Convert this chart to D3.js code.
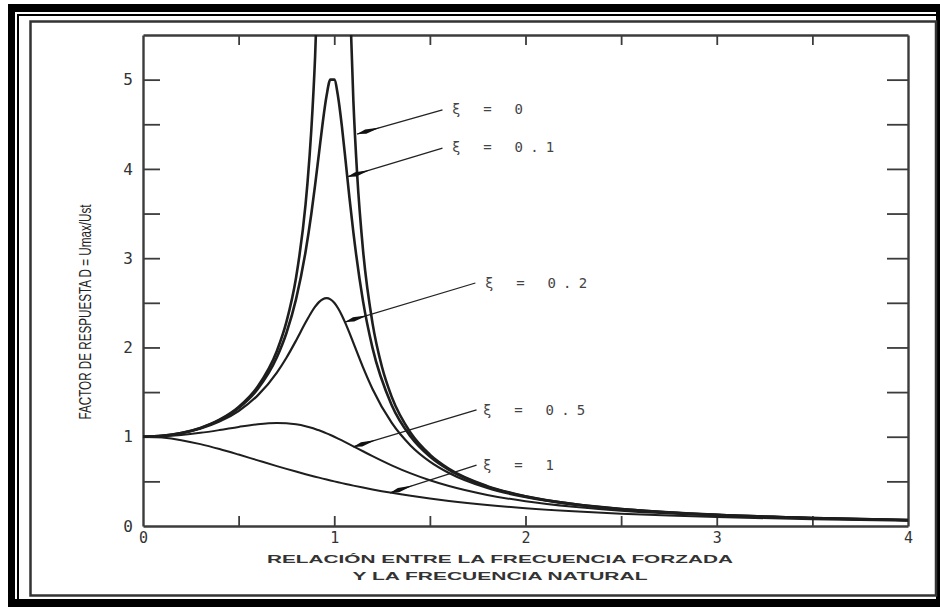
<!DOCTYPE html>
<html>
<head>
<meta charset="utf-8">
<script src="https://cdn.jsdelivr.net/npm/d3@7"></script>
<style>
  html, body { margin: 0; padding: 0; background: #fff; }
  svg { display: block; }
</style>
</head>
<body>
<script>
// ---------- data ----------
const ratio = [0,0.1,0.2,0.3,0.4,0.5,0.6,0.7,0.75,0.8,0.85,0.88,0.9,0.92,0.94,0.96,0.98,1.0,1.02,1.04,1.06,1.08,1.1,1.15,1.2,1.3,1.4,1.5,1.6,1.8,2.0,2.25,2.5,2.75,3.0,3.5,4.0];

const xi0LeftRatio  = [0,0.1,0.2,0.3,0.4,0.5,0.6,0.7,0.75,0.8,0.85,0.86,0.88,0.9,0.92];
const xi0LeftValue  = [1,1.0101,1.0417,1.0989,1.1905,1.3333,1.5625,1.9608,2.2857,2.7778,3.6036,3.8402,4.4326,5.2632,6.5104];
const xi0RightRatio = [1.08,1.1,1.12,1.15,1.2,1.25,1.3,1.4,1.5,1.6,1.8,2.0,2.25,2.5,2.75,3.0,3.5,4.0];
const xi0RightValue = [6.0096,4.7619,3.931,3.1008,2.2727,1.7778,1.4493,1.0417,0.8,0.641,0.4464,0.3333,0.2462,0.1905,0.1524,0.125,0.0889,0.0667];

const xi01 = [1,1.0099,1.0408,1.0965,1.1851,1.3216,1.5357,1.8908,2.1622,2.5384,3.0728,3.4949,3.8208,4.1721,4.5225,4.8218,5.0010,5.0,4.8086,4.4755,4.0750,3.6675,3.2880,2.5245,1.9952,1.3562,1.0,0.7779,0.6279,0.4408,0.3304,0.2447,0.1896,0.1518,0.1247,0.0887,0.0666];
const xi02 = [1,1.0093,1.0381,1.0895,1.1695,1.2883,1.4630,1.7188,1.8851,2.0761,2.2786,2.3918,2.4566,2.5077,2.5407,2.5515,2.5381,2.5,2.4390,2.3589,2.2642,2.1601,2.0511,1.7800,1.5357,1.1574,0.8998,0.7212,0.5931,0.4250,0.3221,0.2403,0.1871,0.1503,0.1236,0.0882,0.0663];
const xi05 = [1,1.0050,1.0198,1.0437,1.0748,1.1094,1.1399,1.1546,1.1517,1.1399,1.1184,1.1008,1.0871,1.0721,1.0558,1.0382,1.0196,1.0,0.9796,0.9586,0.9370,0.9151,0.8930,0.8373,0.7824,0.6795,0.5891,0.5121,0.4475,0.3480,0.2774,0.2153,0.1720,0.1405,0.1170,0.0849,0.0644];
const xi10 = [1,0.9901,0.9615,0.9174,0.8621,0.8,0.7353,0.6711,0.64,0.6098,0.5806,0.5636,0.5525,0.5416,0.5309,0.5204,0.5101,0.5,0.4901,0.4804,0.4709,0.4616,0.4525,0.4306,0.4098,0.3717,0.3378,0.3077,0.2809,0.2358,0.2,0.1649,0.1379,0.1168,0.1,0.0755,0.0588];

const xTickValues = [0,1,2,3,4];
const xTickLabels = ["0","1","2","3","4"];
const yTickValues = [0,1,2,3,4,5];
const yTickLabels = ["0","1","2","3","4","5"];
const xMinorTicks = [0.5,1,1.5,2,2.5,3,3.5];
const yMinorTicks = [0.5,1,1.5,2,2.5,3,3.5,4,4.5,5];

const annLabels = ["ξ = 0","ξ = 0.1","ξ = 0.2","ξ = 0.5","ξ = 1"];
const annTextX  = [1.616,1.616,1.788,1.778,1.778];
const annTextY  = [4.67,4.245,2.722,1.30,0.683];
const annFromX  = [1.566,1.566,1.738,1.744,1.744];
const annFromY  = [4.66,4.234,2.722,1.30,0.683];
const annToX    = [1.119,1.067,1.056,1.098,1.291];
const annToY    = [4.39,3.91,2.285,0.885,0.37];

const xTitle1 = "RELACIÓN ENTRE LA FRECUENCIA FORZADA";
const xTitle2 = "Y LA FRECUENCIA NATURAL";
const yTitle  = "FACTOR DE RESPUESTA D = Umax/Ust";

// ---------- drawing ----------
const W = 940, H = 607;
const svg = d3.select("body").append("svg").attr("width", W).attr("height", H);

// page frame (scanned double border)
svg.append("rect").attr("x", 8).attr("y", 4).attr("width", 932).attr("height", 603).attr("fill", "#000");
svg.append("rect").attr("x", 15).attr("y", 12).attr("width", 921).attr("height", 587).attr("fill", "#fff");
svg.append("path").attr("d", "M18,599V15H936").attr("fill", "none").attr("stroke", "#000").attr("stroke-width", 2);
svg.append("rect").attr("x", 30.5).attr("y", 21.5).attr("width", 905.5).attr("height", 574)
  .attr("fill", "none").attr("stroke", "#333").attr("stroke-width", 2.5);

const plot = { left: 143, right: 908, top: 35, bottom: 526 };
const x = d3.scaleLinear().domain([0, 4]).range([plot.left, plot.right]);
const y = d3.scaleLinear().domain([0, 5.5]).range([plot.bottom, plot.top]);

const axisColor = "#3c3c3c";
function styleAxis(g, keepDomain) {
  g.selectAll(".tick line").attr("stroke", axisColor).attr("stroke-width", 1.8);
  if (keepDomain) g.select(".domain").attr("stroke", axisColor).attr("stroke-width", 2.4);
  else g.select(".domain").remove();
}

// left axis with inward ticks
const gL = svg.append("g").attr("transform", `translate(${plot.left},0)`)
  .call(d3.axisRight(y).tickValues(yMinorTicks).tickSize(17).tickSizeOuter(0).tickFormat(""));
styleAxis(gL, true);
// right axis
const gR = svg.append("g").attr("transform", `translate(${plot.right},0)`)
  .call(d3.axisLeft(y).tickValues(yMinorTicks).tickSize(21).tickSizeOuter(0).tickFormat(""));
styleAxis(gR, true);
// top axis
const gT = svg.append("g").attr("transform", `translate(0,${plot.top})`)
  .call(d3.axisBottom(x).tickValues(xMinorTicks).tickSize(10).tickSizeOuter(0).tickFormat(""));
styleAxis(gT, true);
// bottom axis
const gB = svg.append("g").attr("transform", `translate(0,${plot.bottom})`)
  .call(d3.axisTop(x).tickValues(xMinorTicks).tickSize(10).tickSizeOuter(0).tickFormat(""));
styleAxis(gB, true);

// tick labels
const gYL = svg.append("g").attr("transform", `translate(${plot.left},0)`)
  .call(d3.axisLeft(y).tickValues(yTickValues).tickSize(0).tickPadding(10)
    .tickFormat((d, i) => yTickLabels[i]));
styleAxis(gYL, false);
gYL.selectAll("text").attr("font-family", "DejaVu Sans Mono, monospace").attr("font-size", 16).attr("fill", "#333");

const gXL = svg.append("g").attr("transform", `translate(0,${plot.bottom})`)
  .call(d3.axisBottom(x).tickValues(xTickValues).tickSize(0).tickPadding(6)
    .tickFormat((d, i) => xTickLabels[i]));
styleAxis(gXL, false);
gXL.selectAll("text").attr("font-family", "DejaVu Sans Mono, monospace").attr("font-size", 15).attr("fill", "#333");

// clip
svg.append("clipPath").attr("id", "clip").append("rect")
  .attr("x", plot.left).attr("y", plot.top)
  .attr("width", plot.right - plot.left).attr("height", plot.bottom - plot.top);

const line = d3.line().x(d => x(d[0])).y(d => y(d[1])).curve(d3.curveMonotoneX);
const curves = svg.append("g").attr("clip-path", "url(#clip)");

const series = [
  { pts: d3.zip(xi0LeftRatio, xi0LeftValue), w: 2.6 },
  { pts: d3.zip(xi0RightRatio, xi0RightValue), w: 2.6 },
  { pts: d3.zip(ratio, xi01), w: 2.6 },
  { pts: d3.zip(ratio, xi02), w: 2.2 },
  { pts: d3.zip(ratio, xi05), w: 2.0 },
  { pts: d3.zip(ratio, xi10), w: 2.0 }
];
series.forEach(s => {
  curves.append("path").attr("d", line(s.pts)).attr("fill", "none")
    .attr("stroke", "#1e1e1e").attr("stroke-width", s.w).attr("stroke-linejoin", "round");
});

// annotations
const ann = svg.append("g");
annLabels.forEach((lab, i) => {
  const x0 = x(annFromX[i]), y0 = y(annFromY[i]);
  const x1 = x(annToX[i]), y1 = y(annToY[i]);
  ann.append("line").attr("x1", x0).attr("y1", y0).attr("x2", x1).attr("y2", y1)
    .attr("stroke", "#222").attr("stroke-width", 1.3);
  // slender spindle-shaped arrow head near the curve
  const dx = x1 - x0, dy = y1 - y0, len = Math.hypot(dx, dy);
  const ux = dx / len, uy = dy / len, nx = -uy, ny = ux;
  const p = (t, w) => [x1 - ux * t + nx * w, y1 - uy * t + ny * w];
  const pts = [p(0, 0), p(9, 2.2), p(24, 0), p(9, -2.2)];
  ann.append("path").attr("d", "M" + pts.map(q => q.join(",")).join("L") + "Z").attr("fill", "#111");
  ann.append("text").attr("x", x(annTextX[i])).attr("y", y(annTextY[i]))
    .attr("dominant-baseline", "central")
    .attr("font-family", "DejaVu Sans Mono, monospace").attr("font-size", 14)
    .attr("letter-spacing", 7.2).attr("fill", "#444").text(lab);
});

// axis titles
svg.append("text").attr("x", 500).attr("y", 563).attr("text-anchor", "middle")
  .attr("font-family", "Liberation Sans, Arial, sans-serif").attr("font-weight", "bold")
  .attr("font-size", 11.5).attr("fill", "#333")
  .attr("textLength", 466).attr("lengthAdjust", "spacingAndGlyphs").text(xTitle1);
svg.append("text").attr("x", 500).attr("y", 580).attr("text-anchor", "middle")
  .attr("font-family", "Liberation Sans, Arial, sans-serif").attr("font-weight", "bold")
  .attr("font-size", 11.5).attr("fill", "#333")
  .attr("textLength", 295).attr("lengthAdjust", "spacingAndGlyphs").text(xTitle2);

svg.append("text").attr("transform", "translate(84.5,312) rotate(-90)")
  .attr("text-anchor", "middle").attr("dominant-baseline", "central")
  .attr("font-family", "Liberation Sans, Arial, sans-serif")
  .attr("font-size", 16.5).attr("fill", "#222")
  .attr("textLength", 215).attr("lengthAdjust", "spacingAndGlyphs").text(yTitle);
</script>
</body>
</html>
